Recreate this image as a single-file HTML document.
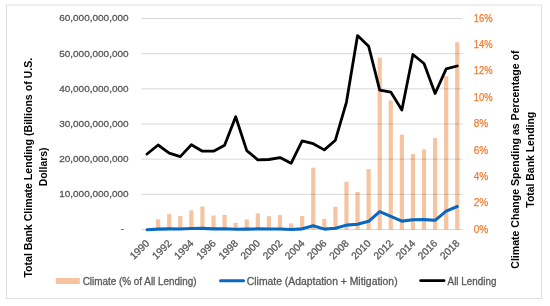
<!DOCTYPE html>
<html><head><meta charset="utf-8"><style>
html,body{margin:0;padding:0;background:#fff;}
body{width:550px;height:306px;overflow:hidden;}
svg{display:block;will-change:transform;}
text{font-family:"Liberation Sans",sans-serif;}
.g{fill:#595959;stroke:#595959;stroke-width:0.3;}
.o{fill:#ed7d31;stroke:#ed7d31;stroke-width:0.25;}
</style></head><body>
<svg width="550" height="306" viewBox="0 0 550 306">
<rect x="0" y="0" width="550" height="306" fill="#fff"/>
<rect x="6.5" y="5" width="535" height="293.5" fill="none" stroke="#e0e0e0" stroke-width="1"/>
<rect x="156.02" y="219.30" width="4.2" height="10.20" fill="#f6c4a0"/>
<rect x="167.10" y="214.10" width="4.2" height="15.40" fill="#f6c4a0"/>
<rect x="178.18" y="216.00" width="4.2" height="13.50" fill="#f6c4a0"/>
<rect x="189.26" y="210.40" width="4.2" height="19.10" fill="#f6c4a0"/>
<rect x="200.34" y="206.50" width="4.2" height="23.00" fill="#f6c4a0"/>
<rect x="211.42" y="215.50" width="4.2" height="14.00" fill="#f6c4a0"/>
<rect x="222.49" y="214.90" width="4.2" height="14.60" fill="#f6c4a0"/>
<rect x="233.57" y="222.80" width="4.2" height="6.70" fill="#f6c4a0"/>
<rect x="244.65" y="219.50" width="4.2" height="10.00" fill="#f6c4a0"/>
<rect x="255.73" y="213.30" width="4.2" height="16.20" fill="#f6c4a0"/>
<rect x="266.81" y="216.20" width="4.2" height="13.30" fill="#f6c4a0"/>
<rect x="277.89" y="214.90" width="4.2" height="14.60" fill="#f6c4a0"/>
<rect x="288.97" y="223.50" width="4.2" height="6.00" fill="#f6c4a0"/>
<rect x="300.05" y="216.00" width="4.2" height="13.50" fill="#f6c4a0"/>
<rect x="311.13" y="167.70" width="4.2" height="61.80" fill="#f6c4a0"/>
<rect x="322.21" y="218.90" width="4.2" height="10.60" fill="#f6c4a0"/>
<rect x="333.29" y="206.80" width="4.2" height="22.70" fill="#f6c4a0"/>
<rect x="344.37" y="181.70" width="4.2" height="47.80" fill="#f6c4a0"/>
<rect x="355.45" y="191.90" width="4.2" height="37.60" fill="#f6c4a0"/>
<rect x="366.53" y="169.10" width="4.2" height="60.40" fill="#f6c4a0"/>
<rect x="377.61" y="57.70" width="4.2" height="171.80" fill="#f6c4a0"/>
<rect x="388.68" y="100.50" width="4.2" height="129.00" fill="#f6c4a0"/>
<rect x="399.76" y="134.70" width="4.2" height="94.80" fill="#f6c4a0"/>
<rect x="410.84" y="154.10" width="4.2" height="75.40" fill="#f6c4a0"/>
<rect x="421.92" y="149.40" width="4.2" height="80.10" fill="#f6c4a0"/>
<rect x="433.00" y="138.10" width="4.2" height="91.40" fill="#f6c4a0"/>
<rect x="444.08" y="76.30" width="4.2" height="153.20" fill="#f6c4a0"/>
<rect x="455.16" y="42.20" width="4.2" height="187.30" fill="#f6c4a0"/>
<line x1="141.5" y1="18.50" x2="462.8" y2="18.50" stroke="#d9d9d9" stroke-width="1" style="mix-blend-mode:multiply"/>
<line x1="141.5" y1="53.67" x2="462.8" y2="53.67" stroke="#d9d9d9" stroke-width="1" style="mix-blend-mode:multiply"/>
<line x1="141.5" y1="88.83" x2="462.8" y2="88.83" stroke="#d9d9d9" stroke-width="1" style="mix-blend-mode:multiply"/>
<line x1="141.5" y1="124.00" x2="462.8" y2="124.00" stroke="#d9d9d9" stroke-width="1" style="mix-blend-mode:multiply"/>
<line x1="141.5" y1="159.17" x2="462.8" y2="159.17" stroke="#d9d9d9" stroke-width="1" style="mix-blend-mode:multiply"/>
<line x1="141.5" y1="194.33" x2="462.8" y2="194.33" stroke="#d9d9d9" stroke-width="1" style="mix-blend-mode:multiply"/>
<line x1="141.5" y1="229.50" x2="462.8" y2="229.50" stroke="#d9d9d9" stroke-width="1" style="mix-blend-mode:multiply"/>
<polyline points="147.04,229.75 158.12,229.10 169.20,228.86 180.28,229.00 191.36,228.52 202.44,228.38 213.52,228.92 224.59,228.82 235.67,229.18 246.75,229.15 257.83,228.89 268.91,229.04 279.99,228.95 291.07,229.45 302.15,228.84 313.23,225.73 324.31,229.11 335.39,228.21 346.47,225.13 357.55,224.22 368.63,221.35 379.71,211.60 390.78,216.31 401.86,221.16 412.94,219.74 424.02,219.67 435.10,220.32 446.18,211.09 457.26,206.53" fill="none" stroke="#0a68c0" stroke-width="3.1" stroke-linejoin="round" stroke-linecap="round"/>
<polyline points="147.04,154.00 158.12,145.00 169.20,153.10 180.28,156.60 191.36,144.70 202.44,151.20 213.52,151.20 224.59,145.20 235.67,116.80 246.75,150.60 257.83,159.80 268.91,159.50 279.99,157.60 291.07,163.30 302.15,140.80 313.23,143.70 324.31,149.90 335.39,140.20 346.47,102.10 357.55,35.60 368.63,46.20 379.71,90.20 390.78,92.10 401.86,110.00 412.94,54.50 424.02,63.50 435.10,93.50 446.18,68.90 457.26,66.00" fill="none" stroke="#000" stroke-width="2.8" stroke-linejoin="round" stroke-linecap="round"/>
<text x="128.6" y="21.40" font-size="9.5" class="g" text-anchor="end" textLength="69.4" lengthAdjust="spacingAndGlyphs">60,000,000,000</text>
<text x="128.6" y="56.57" font-size="9.5" class="g" text-anchor="end" textLength="69.4" lengthAdjust="spacingAndGlyphs">50,000,000,000</text>
<text x="128.6" y="91.73" font-size="9.5" class="g" text-anchor="end" textLength="69.4" lengthAdjust="spacingAndGlyphs">40,000,000,000</text>
<text x="128.6" y="126.90" font-size="9.5" class="g" text-anchor="end" textLength="69.4" lengthAdjust="spacingAndGlyphs">30,000,000,000</text>
<text x="128.6" y="162.07" font-size="9.5" class="g" text-anchor="end" textLength="69.4" lengthAdjust="spacingAndGlyphs">20,000,000,000</text>
<text x="128.6" y="197.23" font-size="9.5" class="g" text-anchor="end" textLength="69.4" lengthAdjust="spacingAndGlyphs">10,000,000,000</text>
<text x="123.8" y="232.40" font-size="9.5" class="g" text-anchor="end">-</text>
<text x="473.8" y="21.70" font-size="10" class="o" textLength="18.8" lengthAdjust="spacingAndGlyphs">16%</text>
<text x="473.8" y="48.08" font-size="10" class="o" textLength="18.8" lengthAdjust="spacingAndGlyphs">14%</text>
<text x="473.8" y="74.45" font-size="10" class="o" textLength="18.8" lengthAdjust="spacingAndGlyphs">12%</text>
<text x="473.8" y="100.83" font-size="10" class="o" textLength="18.8" lengthAdjust="spacingAndGlyphs">10%</text>
<text x="473.8" y="127.20" font-size="10" class="o" >8%</text>
<text x="473.8" y="153.57" font-size="10" class="o" >6%</text>
<text x="473.8" y="179.95" font-size="10" class="o" >4%</text>
<text x="473.8" y="206.32" font-size="10" class="o" >2%</text>
<text x="473.8" y="232.70" font-size="10" class="o" >0%</text>
<text transform="translate(144.84,238.8) rotate(-45)" font-size="10.2" class="g" text-anchor="end" dy="0.72em">1990</text>
<text transform="translate(167.00,238.8) rotate(-45)" font-size="10.2" class="g" text-anchor="end" dy="0.72em">1992</text>
<text transform="translate(189.16,238.8) rotate(-45)" font-size="10.2" class="g" text-anchor="end" dy="0.72em">1994</text>
<text transform="translate(211.32,238.8) rotate(-45)" font-size="10.2" class="g" text-anchor="end" dy="0.72em">1996</text>
<text transform="translate(233.47,238.8) rotate(-45)" font-size="10.2" class="g" text-anchor="end" dy="0.72em">1998</text>
<text transform="translate(255.63,238.8) rotate(-45)" font-size="10.2" class="g" text-anchor="end" dy="0.72em">2000</text>
<text transform="translate(277.79,238.8) rotate(-45)" font-size="10.2" class="g" text-anchor="end" dy="0.72em">2002</text>
<text transform="translate(299.95,238.8) rotate(-45)" font-size="10.2" class="g" text-anchor="end" dy="0.72em">2004</text>
<text transform="translate(322.11,238.8) rotate(-45)" font-size="10.2" class="g" text-anchor="end" dy="0.72em">2006</text>
<text transform="translate(344.27,238.8) rotate(-45)" font-size="10.2" class="g" text-anchor="end" dy="0.72em">2008</text>
<text transform="translate(366.43,238.8) rotate(-45)" font-size="10.2" class="g" text-anchor="end" dy="0.72em">2010</text>
<text transform="translate(388.58,238.8) rotate(-45)" font-size="10.2" class="g" text-anchor="end" dy="0.72em">2012</text>
<text transform="translate(410.74,238.8) rotate(-45)" font-size="10.2" class="g" text-anchor="end" dy="0.72em">2014</text>
<text transform="translate(432.90,238.8) rotate(-45)" font-size="10.2" class="g" text-anchor="end" dy="0.72em">2016</text>
<text transform="translate(455.06,238.8) rotate(-45)" font-size="10.2" class="g" text-anchor="end" dy="0.72em">2018</text>
<text transform="translate(31.5,167.7) rotate(-90)" font-size="10.6" font-weight="bold" fill="#000" text-anchor="middle" textLength="219.8" lengthAdjust="spacingAndGlyphs">Total Bank Climate Lending (Billions of U.S.</text>
<text transform="translate(47,166.9) rotate(-90)" font-size="10.6" font-weight="bold" fill="#000" text-anchor="middle" textLength="38.9" lengthAdjust="spacingAndGlyphs">Dollars)</text>
<text transform="translate(518.8,159.65) rotate(-90)" font-size="10.6" font-weight="bold" fill="#000" text-anchor="middle" textLength="218.1" lengthAdjust="spacingAndGlyphs">Climate Change Spending as Percentage of</text>
<text transform="translate(534.4,159.75) rotate(-90)" font-size="10.6" font-weight="bold" fill="#000" text-anchor="middle" textLength="95.9" lengthAdjust="spacingAndGlyphs">Total Bank Lending</text>
<rect x="55.8" y="278" width="24" height="6" fill="#f6c4a0"/>
<text x="82.7" y="284.5" font-size="10" class="g" textLength="113.9" lengthAdjust="spacingAndGlyphs">Climate (% of All Lending)</text>
<line x1="220.5" y1="280.7" x2="243.6" y2="280.7" stroke="#0a68c0" stroke-width="3" stroke-linecap="round"/>
<text x="246.8" y="284.5" font-size="10" class="g" textLength="150.8" lengthAdjust="spacingAndGlyphs">Climate (Adaptation + Mitigation)</text>
<line x1="420.6" y1="280.7" x2="444.1" y2="280.7" stroke="#000" stroke-width="2.7" stroke-linecap="round"/>
<text x="447.6" y="284.5" font-size="10" class="g" textLength="48.8" lengthAdjust="spacingAndGlyphs">All Lending</text>
</svg>
</body></html>
